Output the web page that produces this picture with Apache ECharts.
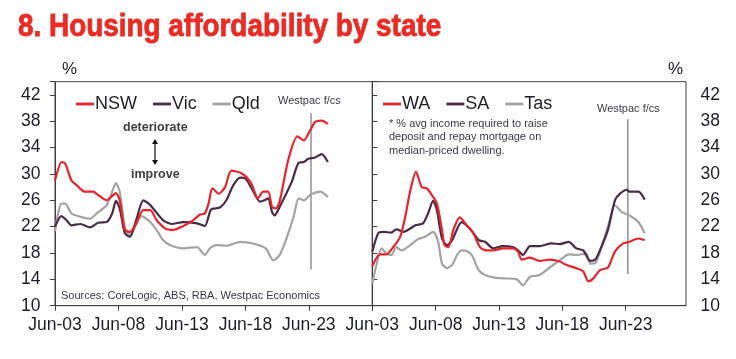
<!DOCTYPE html>
<html><head><meta charset="utf-8">
<script src="https://cdn.jsdelivr.net/npm/echarts@6/dist/echarts.min.js"></script>
<style>html,body{margin:0;padding:0;background:#fff}#c{width:736px;height:359px}</style>
</head><body><div id="c"></div><script>
// x values: years after Jun-2003
const xTickLabels = ['Jun-03','Jun-08','Jun-13','Jun-18','Jun-23'];
const yTicks = [10,14,18,22,26,30,34,38,42];
const forecastStart = 20.17; // ~ Aug/Sep 2023

const nswT = [0,0.53,0.8,1.3,1.7,2.36,3.0,3.4,4.07,4.3,4.8,5.1,5.5,5.9,6.4,6.96,7.5,8.0,8.7,9.3,10.0,10.9,11.4,11.8,12.1,12.4,12.9,13.4,13.9,14.7,15.4,16.0,16.4,16.8,17.1,17.4,17.7,18.4,19.1,19.6,20.1,20.5,21.0,21.5];
const nswV = [29.0,31.8,31.6,29.0,28.3,27.3,27.3,26.8,26.0,26.3,27.1,26.0,21.5,21.2,22.5,24.5,24.5,23.0,21.7,21.5,22.0,23.0,23.8,24.0,25.5,27.8,27.0,28.0,30.5,30.1,28.8,26.3,27.3,27.3,25.0,24.75,25.8,32.3,35.7,35.1,36.6,37.9,38.1,37.6];

const vicT = [0,0.5,0.9,1.3,2.0,2.76,3.4,4.07,4.5,4.8,5.1,5.5,5.9,6.4,6.96,7.5,8.5,9.2,10.1,11.2,11.8,12.3,13.0,13.5,14.05,14.6,15.0,15.5,16.15,16.5,16.8,17.1,17.3,17.7,18.65,19.2,19.6,19.96,20.5,21.0,21.5];
const vicV = [22.0,23.6,23.0,22.2,22.4,21.9,22.6,22.7,24.0,25.9,24.75,21.0,20.45,23.0,26.0,25.3,23.0,22.4,22.7,22.5,22.1,24.6,24.9,26.0,28.3,29.45,29.3,27.8,25.8,26.0,26.3,24.2,23.7,25.0,28.8,31.7,31.8,32.3,32.5,33.0,31.8];

const qldT = [0,0.5,0.8,1.3,2.0,2.76,3.4,4.07,4.5,4.8,5.1,5.5,5.85,6.3,6.8,7.5,8.0,8.5,9.06,10.1,11.2,11.8,12.2,12.7,13.5,14.6,15.6,16.6,17.2,17.7,18.2,18.8,19.2,19.6,20.1,20.9,21.5];
const qldV = [21.3,25.5,25.5,24.0,23.5,23.2,24.2,25.25,27.3,28.6,27.3,22.0,20.7,22.0,23.6,22.7,21.5,20.0,19.2,18.7,18.9,17.7,18.7,19.2,19.1,19.7,19.45,18.7,16.9,17.7,20.0,23.5,26.3,26.0,26.8,27.3,26.5];

const waT = [0,0.6,1.1,1.65,2.2,2.6,3.0,3.45,3.9,4.3,4.7,5.1,5.5,5.7,6.0,6.4,6.9,7.45,7.97,8.5,9.0,9.55,10.3,11.1,11.5,11.8,12.45,13.2,14.0,14.8,15.3,16.1,16.65,17.05,17.45,17.97,18.6,19.15,19.8,20.3,21.0,21.5];
const waV = [16.0,17.8,17.8,18.9,20.45,23.5,27.5,30.3,28.0,27.8,26.8,25.5,21.5,19.2,18.9,21.5,23.4,22.2,21.0,18.9,18.4,18.4,18.7,18.7,18.2,17.0,17.3,16.8,17.0,16.7,16.2,15.7,15.2,13.7,14.15,15.4,15.8,18.2,19.45,19.7,20.2,19.95];

const saT = [0,0.47,0.9,1.5,1.9,2.45,3.4,4.0,4.4,4.8,5.1,5.5,5.9,6.3,7.05,7.7,8.4,8.9,9.55,10.3,11.1,11.5,11.9,12.45,13.2,14.15,14.8,15.5,16.1,16.65,17.2,17.6,17.97,18.6,19.15,19.55,20.1,20.3,21.0,21.5];
const saV = [18.2,21.0,21.2,21.1,21.6,21.2,22.2,22.5,24.0,25.9,24.5,20.2,19.2,19.95,22.7,21.7,19.95,19.7,18.7,19.05,18.9,18.4,17.7,19.05,19.05,19.45,19.35,19.7,18.7,18.4,16.8,17.0,18.4,21.5,26.0,27.0,27.6,27.3,27.3,26.1];

const tasT = [0,0.35,0.74,1.1,1.5,1.9,2.3,3.0,3.6,4.16,4.8,5.2,5.5,5.9,6.3,6.7,7.05,7.45,7.85,8.4,8.9,9.55,10.3,11.4,11.9,12.45,13.2,14.0,14.8,15.5,16.1,16.9,17.2,17.6,17.97,18.6,19.15,19.7,20.3,21.0,21.5];
const tasV = [13.3,16.4,18.7,17.9,17.7,18.9,18.4,19.2,20.1,20.45,21.2,19.7,16.4,15.7,16.2,17.7,18.4,18.3,17.7,15.4,14.65,14.3,14.15,14.0,13.1,14.4,14.65,15.8,16.9,17.8,17.7,17.9,16.4,16.5,18.2,22.0,25.25,24.2,23.7,22.7,21.0];

const fcLeftY = [15.5, 39.2];
const fcRightY = [14.8, 38.3];

const RED = '#e8232b', PURPLE = '#4a2a45', GREY = '#a3a3a3';
const FONT = "'Liberation Sans', Arial, sans-serif";
const AX = '#3f3f3f';

const zip = (t, v) => t.map((x, i) => [x, v[i]]);

const xLabelFmt = v => {
  const i = Math.round(v / 5);
  return (Math.abs(v - i * 5) < 1e-6 && i >= 0 && i < xTickLabels.length) ? xTickLabels[i] : '';
};
const yLabelFmt = v => (yTicks.indexOf(v) >= 0 ? String(v) : '');

function xAxis(gi, max) {
  return {
    type: 'value', gridIndex: gi, min: 0, max: max, interval: 5,
    axisLine: { show: true, lineStyle: { color: AX, width: 1 } },
    axisTick: { show: true, length: 5, lineStyle: { color: AX } },
    axisLabel: { formatter: xLabelFmt, fontFamily: FONT, fontSize: 17.5, color: '#1e1e2a', margin: 10.5, showMaxLabel: false },
    splitLine: { show: false }
  };
}
function yAxis(gi, pos) {
  return {
    type: 'value', gridIndex: gi, position: pos, min: 10, max: 44, interval: 4,
    axisLine: { show: true, lineStyle: { color: AX, width: 1 } },
    axisTick: { show: true, length: 5, lineStyle: { color: AX } },
    axisLabel: { formatter: yLabelFmt, fontFamily: FONT, fontSize: 17.5, color: '#1e1e2a', margin: 14.5 },
    splitLine: { show: false }
  };
}
function line(name, data, color, xi) {
  return {
    name, type: 'line', xAxisIndex: xi, yAxisIndex: xi, data, smooth: 0.25,
    showSymbol: false, symbol: 'none', lineStyle: { color, width: 2.2 }, itemStyle: { color },
    z: 3, animation: false
  };
}
function fcLine(xi, ys) {
  return {
    type: 'line', xAxisIndex: xi, yAxisIndex: xi, data: ys.map(y => [forecastStart, y]),
    showSymbol: false, symbol: 'none', lineStyle: { color: '#7f7f7f', width: 1.3 }, z: 2, animation: false, silent: true
  };
}
function legend(left, names) {
  return {
    left, top: 90, data: names, icon: 'rect', itemWidth: 18, itemHeight: 2.8, itemGap: 16,
    textStyle: { fontFamily: FONT, fontSize: 18, color: '#1e1e2a', padding: [0, 0, 0, -4] },
    selectedMode: false
  };
}
const small = (x, y, text, extra) => ({
  type: 'text', left: x, top: y,
  style: Object.assign({ text, font: '11px ' + FONT, fill: '#3a3a48' }, extra || {})
});

const chart = echarts.init(document.getElementById('c'), null, { renderer: 'canvas' });
chart.setOption({
  animation: false,
  backgroundColor: '#fff',
  grid: [
    { left: 55, right: 363.7, top: 81.7, bottom: 53.3, show: true, borderColor: AX, borderWidth: 1 },
    { left: 372.3, right: 50, top: 81.7, bottom: 53.3, show: true, borderColor: AX, borderWidth: 1 }
  ],
  xAxis: [xAxis(0, 25), xAxis(1, 24.76)],
  yAxis: [yAxis(0, 'left'), yAxis(1, 'right')],
  legend: [legend(71, ['NSW','Vic','Qld']), legend(378, ['WA','SA','Tas'])],
  series: [
    fcLine(0, fcLeftY), fcLine(1, fcRightY),
    line('Qld', zip(qldT, qldV), GREY, 0),
    line('Vic', zip(vicT, vicV), PURPLE, 0),
    line('NSW', zip(nswT, nswV), RED, 0),
    line('Tas', zip(tasT, tasV), GREY, 1),
    line('SA', zip(saT, saV), PURPLE, 1),
    line('WA', zip(waT, waV), RED, 1)
  ],
  graphic: [
    { type: 'text', x: 18, y: 12, scaleX: 0.9, scaleY: 1, style: { text: '8. Housing affordability by state', font: "bold 31px 'Liberation Sans', Arial, sans-serif", fill: '#ec2a23', stroke: '#ec2a23', lineWidth: 0.8 } },
    { type: 'text', left: 62, top: 61, style: { text: '%', font: '17px ' + FONT, fill: '#1e1e2a' } },
    { type: 'text', left: 668, top: 61, style: { text: '%', font: '17px ' + FONT, fill: '#1e1e2a' } },
    small(278, 95, 'Westpac f/cs'),
    small(597, 103, 'Westpac f/cs'),
    { type: 'text', left: 123, top: 121, style: { text: 'deteriorate', font: 'bold 12.5px ' + FONT, fill: '#3f3f4a' } },
    { type: 'text', left: 131, top: 168, style: { text: 'improve', font: 'bold 12.5px ' + FONT, fill: '#3f3f4a' } },
    { type: 'line', shape: { x1: 155, y1: 142, x2: 155, y2: 162 }, style: { stroke: '#111', lineWidth: 1.2 } },
    { type: 'polygon', shape: { points: [[152, 144], [158, 144], [155, 139]] }, style: { fill: '#111' } },
    { type: 'polygon', shape: { points: [[152, 160], [158, 160], [155, 165]] }, style: { fill: '#111' } },
    { type: 'text', left: 389, top: 117, style: { text: '* % avg income required to raise\ndeposit and repay mortgage on\nmedian-priced dwelling.', font: '11px ' + FONT, fill: '#3a3a48', lineHeight: 13.4 } },
    small(61, 290, 'Sources: CoreLogic, ABS, RBA, Westpac Economics')
  ]
});
</script></body></html>
